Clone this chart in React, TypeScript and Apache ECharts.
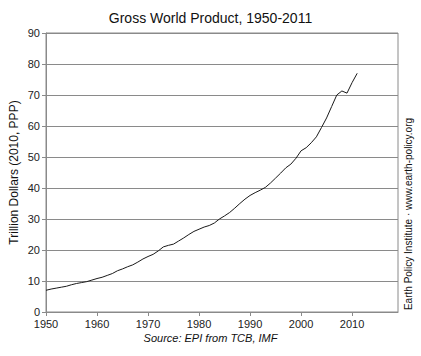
import React, { useEffect, useRef } from "react";
import * as echarts from "echarts";

const years: number[] = [];
for (let y = 1950; y <= 2011; y++) years.push(y);

const gwp = [
  7.0, 7.4, 7.7, 8.0, 8.3, 8.8, 9.2, 9.5, 9.8, 10.3,
  10.8, 11.2, 11.8, 12.4, 13.3, 13.9, 14.6, 15.2, 16.1, 17.1,
  17.9, 18.6, 19.7, 21.0, 21.5, 21.9, 22.9, 23.9, 25.0, 26.0,
  26.7, 27.4, 27.9, 28.7, 30.0, 31.0, 32.1, 33.5, 35.0, 36.4,
  37.6, 38.5, 39.3, 40.2, 41.6, 43.2, 44.8, 46.5, 47.7, 49.6,
  52.0, 53.0, 54.6, 56.5, 59.5, 62.6, 66.3, 70.0, 71.3, 70.6,
  74.0, 77.0,
];

const FONT = "'Liberation Sans', Arial, sans-serif";

export default function App() {
  const ref = useRef<HTMLDivElement>(null);
  useEffect(() => {
    if (!ref.current) return;
    const chart = echarts.init(ref.current, undefined, { renderer: "svg" });
    chart.setOption({
      animation: false,
      backgroundColor: "#fff",
      title: {
        text: "Gross World Product, 1950-2011",
        left: "center",
        top: 6,
        textStyle: { fontFamily: FONT, fontSize: 14, fontWeight: "normal", color: "#111" },
      },
      grid: {
        left: 46,
        right: 23,
        top: 33,
        bottom: 44,
        show: true,
        borderColor: "#8a8a8a",
        borderWidth: 1,
      },
      xAxis: {
        type: "value",
        min: 1950,
        max: 2019,
        interval: 10,
        axisLine: { show: true, lineStyle: { color: "#8a8a8a" } },
        axisTick: { show: true, length: 4, lineStyle: { color: "#8a8a8a" } },
        splitLine: { show: false },
        axisLabel: {
          showMaxLabel: false,
          margin: 6,
          fontFamily: FONT,
          fontSize: 11,
          lineHeight: 12,
          color: "#222",
          formatter: (v: number) => String(v),
        },
      },
      yAxis: {
        type: "value",
        min: 0,
        max: 90,
        interval: 10,
        name: "Trillion Dollars (2010, PPP)",
        nameLocation: "middle",
        nameGap: 26,
        nameMoveOverlap: false,
        nameTextStyle: { fontFamily: FONT, fontSize: 12, color: "#111" },
        axisLine: { show: true, lineStyle: { color: "#8a8a8a" } },
        axisTick: { show: true, length: 4, lineStyle: { color: "#8a8a8a" } },
        splitLine: { show: true, lineStyle: { color: "#8a8a8a", width: 1 } },
        axisLabel: { margin: 6, fontFamily: FONT, fontSize: 11, lineHeight: 12, color: "#222" },
      },
      graphic: [
        {
          type: "text",
          left: "center",
          top: 332,
          style: {
            text: "Source: EPI from TCB, IMF",
            font: `italic 11px ${FONT}`,
            fill: "#111",
          },
        },
        {
          type: "text",
          x: 408,
          y: 214,
          rotation: Math.PI / 2,
          style: {
            text: "Earth Policy Institute · www.earth-policy.org",
            font: `10px ${FONT}`,
            fill: "#111",
            align: "center",
            verticalAlign: "middle",
          },
        },
      ],
      series: [
        {
          type: "line",
          data: years.map((y, i) => [y, gwp[i]]),
          showSymbol: false,
          lineStyle: { color: "#1a1a1a", width: 1 },
        },
      ],
    });
    return () => chart.dispose();
  }, []);
  return <div ref={ref} style={{ width: 421, height: 356, position: "absolute", left: 0, top: 0 }} />;
}
